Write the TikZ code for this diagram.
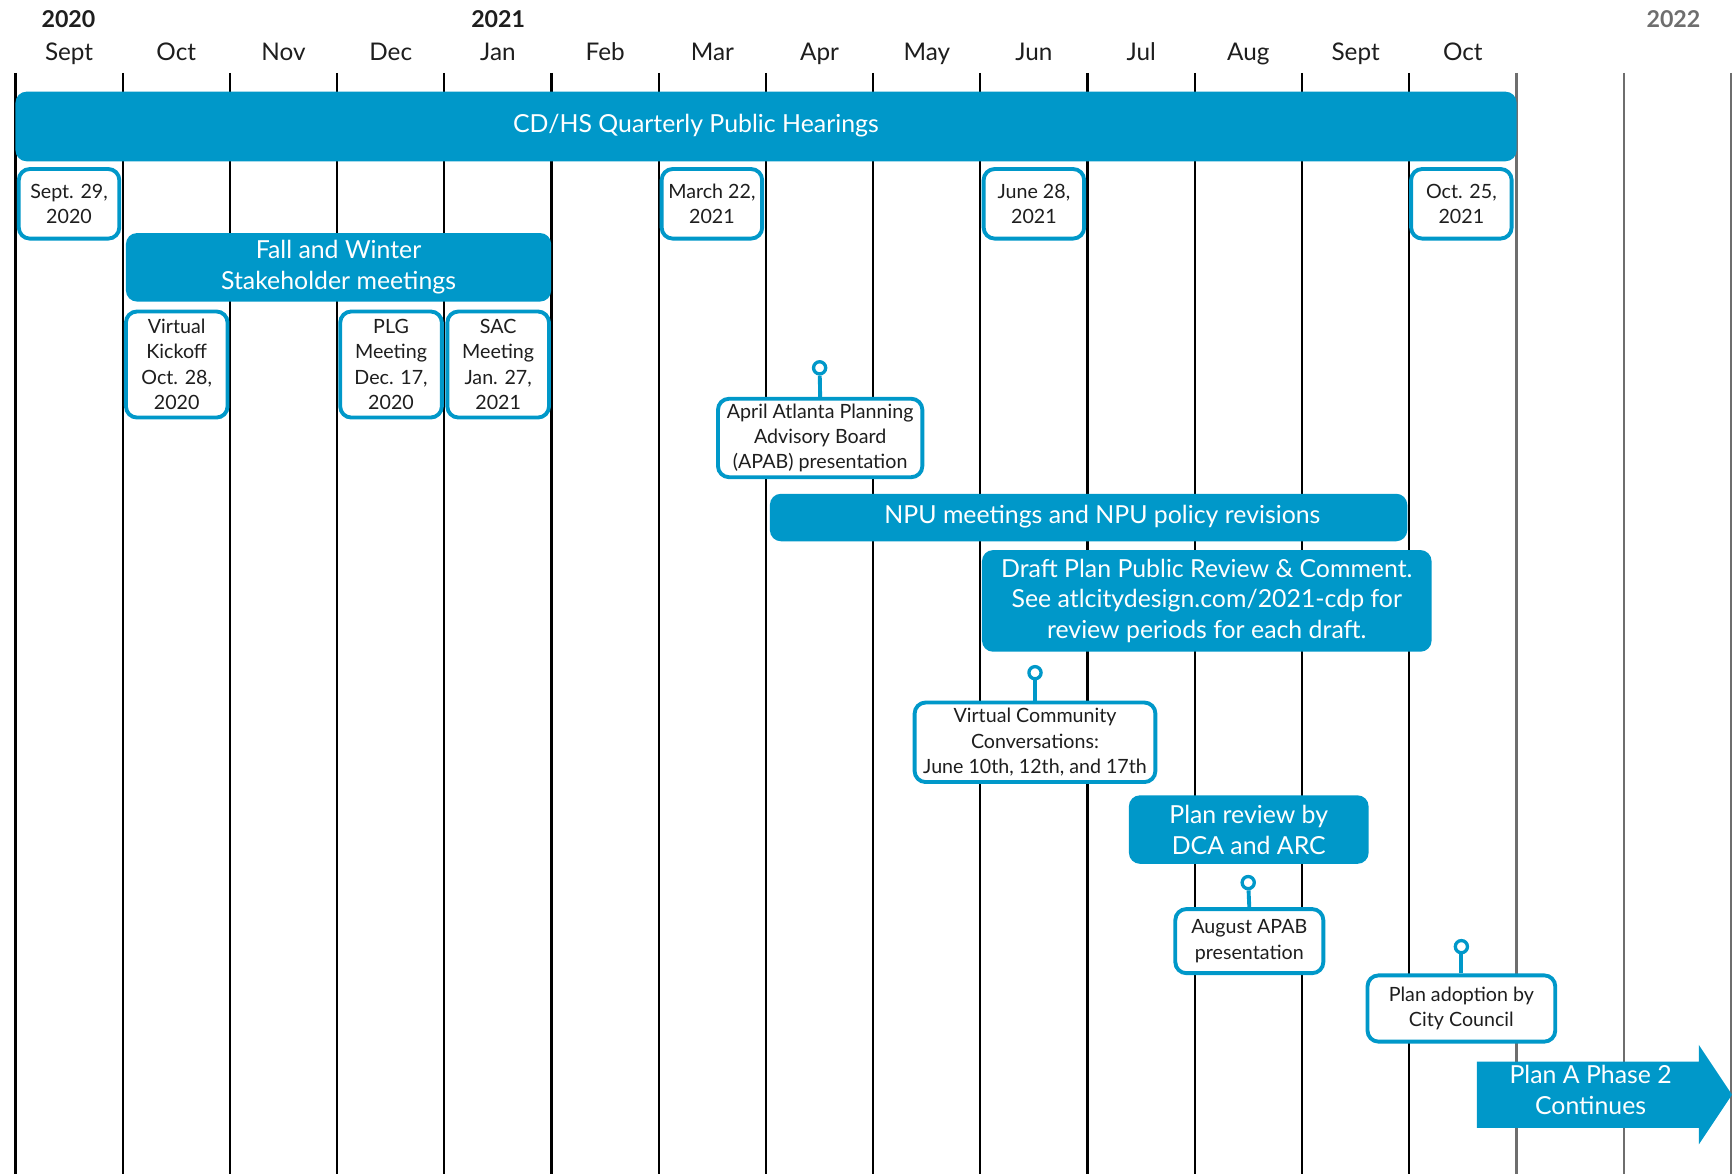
\documentclass[tikz,border=0pt]{standalone}
\usepackage{fontspec}
\setmainfont{Lato}
\definecolor{cdblue}{RGB}{0,152,201}
\definecolor{inkc}{RGB}{30,30,30}
\definecolor{lgray}{RGB}{110,110,110}
\begin{document}
\begin{tikzpicture}[x=1pt,y=-1pt,
  vline/.style={line width=2pt, draw=black},
  vlineg/.style={line width=2pt, draw=lgray},
  yearlbl/.style={font=\fontsize{21}{24}\selectfont\bfseries, text=inkc, inner sep=0},
  monthlbl/.style={font=\fontsize{22}{26}\selectfont, text=inkc, inner sep=0},
  bar/.style={fill=cdblue, rounded corners=10pt, inner sep=0, text=white,
    font=\fontsize{22.5}{28}\selectfont, align=center},
  bartext/.style={text=white, font=\fontsize{22.5}{28}\selectfont, align=center, inner sep=0},
  evbox/.style={draw=cdblue, line width=3.5pt, fill=white, rounded corners=10pt,
    inner sep=0, text=inkc, font=\fontsize{17.8}{23}\selectfont, align=center},
  pinhead/.style={circle, draw=cdblue, line width=3pt, fill=white, minimum size=11pt, inner sep=0},
  pinstem/.style={draw=cdblue, line width=3.5pt}
]
\useasboundingbox (0,0) rectangle (1568,1063);
\fill[white] (0,0) rectangle (1568,1063);

% grid lines
\foreach \i in {0,...,13} \draw[vline] ({14+97.06*\i},66) -- ({14+97.06*\i},1063);
\foreach \i in {14,15,16} \draw[vlineg] ({14+97.06*\i},66) -- ({14+97.06*\i},1063);

% years
\node[yearlbl] (y2020) at (62,17) {2020};
\node[yearlbl] (y2021) at (451,17) {2021};
\node[yearlbl, text=lgray] (y2022) at (1515,17) {2022};

% months
\foreach \m [count=\k from 0] in {Sept,Oct,Nov,Dec,Jan,Feb,Mar,Apr,May,Jun,Jul,Aug,Sept,Oct}
  \node[monthlbl, anchor=base] (m\k) at ({14+97.06*(\k+0.5)},55) {\m};

% CD/HS bar
\node[bar, minimum width=1359pt, minimum height=63pt] (cdhs) at (693.5,114.5) {};
\node[bartext] (cdhsT) at (630,114) {CD/HS Quarterly Public Hearings};

% hearing dates
\node[evbox, minimum width=91pt, minimum height=63pt] (h1) at (62.5,184.5) {Sept. 29,\\2020};
\node[evbox, minimum width=91pt, minimum height=63pt] (h2) at (644.5,184.5) {March 22,\\2021};
\node[evbox, minimum width=91pt, minimum height=63pt] (h3) at (936,184.5) {June 28,\\2021};
\node[evbox, minimum width=91pt, minimum height=63pt] (h4) at (1323,184.5) {Oct. 25,\\2021};

% Fall and Winter
\node[bar, minimum width=385pt, minimum height=62pt] (fw) at (306.5,242) {Fall and Winter\\Stakeholder meetings};
\node[evbox, minimum width=92pt, minimum height=96pt] (kick) at (160,330) {Virtual\\Kickoff\\Oct. 28,\\2020};
\node[evbox, minimum width=92pt, minimum height=96pt] (plg) at (354,330) {PLG\\Meeting\\Dec. 17,\\2020};
\node[evbox, minimum width=92pt, minimum height=96pt] (sac) at (451,330) {SAC\\Meeting\\Jan. 27,\\2021};

% April APAB
\node[evbox, minimum width=185pt, minimum height=71pt] (apab) at (742.5,396.5) {April Atlanta Planning\\Advisory Board\\(APAB) presentation};
\node[pinhead] (p1) at (742,333) {};
\draw[pinstem] (p1) -- (apab.north);

% NPU
\node[bar, minimum width=577pt, minimum height=43pt] (npu) at (985.5,468.5) {};
\node[bartext] (npuT) at (998,468) {NPU meetings and NPU policy revisions};

% Draft plan
\node[bar, minimum width=407pt, minimum height=92pt] (draft) at (1092.5,544) {Draft Plan Public Review \& Comment.\\See atlcitydesign.com/2021-cdp for\\review periods for each draft.};

% Virtual community conversations
\node[evbox, minimum width=218pt, minimum height=72pt] (vcc) at (937,672) {Virtual Community\\Conversations:\\June 10th, 12th, and 17th};
\node[pinhead] (p2) at (937,609) {};
\draw[pinstem] (p2) -- (vcc.north);

% Plan review
\node[bar, minimum width=217pt, minimum height=62pt] (review) at (1130.5,751) {Plan review by\\DCA and ARC};

% August APAB
\node[evbox, minimum width=134pt, minimum height=58pt] (aug) at (1131,852) {August APAB\\presentation};
\node[pinhead] (p3) at (1130,799) {};
\draw[pinstem] (p3) -- (aug.north);

% Plan adoption
\node[evbox, minimum width=170pt, minimum height=60pt] (adopt) at (1323,913) {Plan adoption by\\City Council};
\node[pinhead] (p4) at (1323,857) {};
\draw[pinstem] (p4) -- (adopt.north);

% Phase 2 arrow
\fill[cdblue] (1337,961) -- (1538,961) -- (1538,946) -- (1568,991) -- (1538,1036) -- (1538,1021) -- (1337,1021) -- cycle;
\node[bartext] (phase2) at (1440,987) {Plan A Phase 2\\Continues};
\end{tikzpicture}
\end{document}
